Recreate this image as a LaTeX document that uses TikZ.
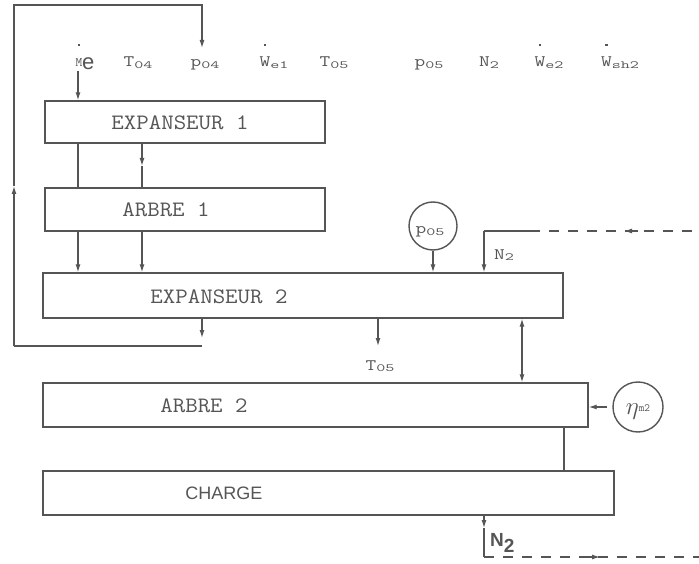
\documentclass[tikz,border=0pt]{standalone}
\usepackage{graphicx}
\usepackage{fontspec}
\setsansfont{Liberation Sans}
\usetikzlibrary{arrows.meta}
\definecolor{ink}{HTML}{555555}
\newcommand\bigsz{\fontsize{16}{16}\selectfont}
\newcommand\smsz{\fontsize{11}{11}\selectfont}
\newcommand\lsym[2]{{\ttfamily\scalebox{1.3}[1]{\bigsz #1}\raisebox{-1.5pt}{\scalebox{1.6}[1]{\smsz #2}}}}
\newcommand\dotted[1]{\leavevmode\hbox{\ooalign{#1\cr\hidewidth\raisebox{21pt}{\rule{2.2pt}{2.2pt}}\hidewidth\cr}}}
\newcommand\boxlab[1]{\scalebox{1.1}[1]{#1}}
\begin{document}
\begin{tikzpicture}[x=1pt,y=-1pt,
  blk/.style={draw=ink, line width=1.3pt, rectangle, inner sep=0pt},
  boxtxt/.style={text=ink, font=\ttfamily\fontsize{22}{22}\selectfont},
  lab/.style={text=ink, inner sep=0pt, anchor=base},
  ln/.style={draw=ink, line width=1.2pt},
  tip/.style={-{Latex[length=8pt,width=5pt]}},
  arr/.style={ln, tip},
  dsh/.style={ln, dash pattern=on 10pt off 9pt},
  ring/.style={draw=ink, line width=1.4pt, circle, inner sep=0pt}]
\useasboundingbox (0,0) rectangle (699,564);

% boxes
\node[blk, minimum width=280pt, minimum height=42pt] (e1) at (185,122) {};
\node[blk, minimum width=280pt, minimum height=43pt] (a1) at (185,209.5) {};
\node[blk, minimum width=520pt, minimum height=45pt] (e2) at (303,295.5) {};
\node[blk, minimum width=545pt, minimum height=44pt] (a2) at (315.5,405) {};
\node[blk, minimum width=571pt, minimum height=44pt] (ch) at (328.5,493) {};

\node[boxtxt] (te1) at (180,123) {\boxlab{EXPANSEUR 1}};
\node[boxtxt] (ta1) at (166,210) {\boxlab{ARBRE 1}};
\node[boxtxt] (te2) at (219,297) {\boxlab{EXPANSEUR 2}};
\node[boxtxt] (ta2) at (204,406) {\boxlab{ARBRE 2}};
\node[text=ink, font=\sffamily\fontsize{18}{18}\selectfont] (tch) at (224,493) {CHARGE};

% top labels
\node[lab] (lm) at (85,67) {\dotted{\ttfamily\fontsize{13}{13}\selectfont M}\raisebox{-3pt}{\sffamily\fontsize{22}{22}\selectfont e}};
\node[lab] (lt4) at (138,67) {\lsym{T}{04}};
\node[lab] (lp4) at (205,67) {\lsym{p}{04}};
\node[lab] (lw1) at (274,67) {\dotted{\lsym{W}{}}\lsym{}{e1}};
\node[lab] (lt5) at (334,67) {\lsym{T}{05}};
\node[lab] (lp5) at (429,67) {\lsym{p}{05}};
\node[lab] (ln2) at (489,67) {\lsym{N}{2}};
\node[lab] (lw2) at (549,67) {\dotted{\lsym{W}{}}\lsym{}{e2}};
\node[lab] (lw3) at (620,67) {\dotted{\lsym{W}{}}\lsym{}{sh2}};

% feedback loop
\coordinate (L1) at (14,346);
\coordinate (L2) at (14,5);
\coordinate (L3) at (202,5);
\coordinate (L4) at (202,48);
\coordinate (Lm) at (14,186);
\coordinate (Lb) at (202,346);
\draw[arr] (L1) -- (Lm);
\draw[arr] (Lm) -- (L2) -- (L3) -- (L4);
\draw[ln] (L1) -- (Lb);
\coordinate (o1) at (202,338);
\draw[arr] (e2.south -| o1) -- (o1);

% M dot input
\coordinate (m0) at (78,71);
\draw[arr] (m0) -- (e1.north -| m0);

% between EXP1 and ARBRE1
\coordinate (c78) at (78,0);
\coordinate (c142) at (142,166);
\draw[ln] (e1.south -| c78) -- (a1.north -| c78);
\draw[arr] (e1.south -| c142) -- (c142);
\draw[ln] (c142) -- (a1.north -| c142);

% between ARBRE1 and EXP2
\draw[arr] (a1.south -| c78) -- (e2.north -| c78);
\draw[arr] (a1.south -| c142) -- (e2.north -| c142);

% p05 ring
\node[ring, minimum size=48pt] (pr) at (433,226) {};
\node[lab] (prt) at (430,234) {\lsym{p}{05}};
\draw[arr] (pr.south) -- (e2.north -| pr.south);

% N2 input dashed
\coordinate (n2a) at (484,231);
\coordinate (n2b) at (530,231);
\coordinate (n2c) at (699,231);
\coordinate (n2h) at (638,231);
\coordinate (n2t) at (624,231);
\draw[arr] (n2a) -- (e2.north -| n2a);
\draw[ln] (n2a) -- (n2b);
\draw[dsh] (n2b) -- (n2c);
\draw[arr] (n2h) -- (n2t);
\node[lab] (n2l) at (504,259) {\lsym{N}{2}};

% T05 output
\coordinate (t5) at (378,346);
\draw[arr] (e2.south -| t5) -- (t5);
\node[lab] (t5l) at (380,370) {\lsym{T}{05}};

% double arrow EXP2 - ARBRE2
\coordinate (dd) at (522,0);
\draw[ln, {Latex[length=8pt,width=5pt]}-{Latex[length=8pt,width=5pt]}] (e2.south -| dd) -- (a2.north -| dd);

% eta ring
\node[ring, minimum size=50pt] (er) at (638,407) {};
\node[lab] (erl) at (638,414) {{\fontsize{26}{26}\selectfont$\eta$}\raisebox{3pt}{\ttfamily\fontsize{11}{11}\selectfont m2}};
\draw[arr, shorten <=5pt] (er.west) -- (a2.east |- er.west);

% ARBRE2 - CHARGE shaft
\coordinate (sh) at (564,0);
\draw[ln] (a2.south -| sh) -- (ch.north -| sh);

% N2 output
\coordinate (b1) at (484,528);
\coordinate (b2) at (484,557);
\coordinate (b3) at (699,557);
\coordinate (bh) at (584,557);
\coordinate (bt) at (600,557);
\draw[arr] (ch.south -| b1) -- (b1);
\draw[ln] (b1) -- (b2);
\draw[dsh] (b2) -- (b3);
\draw[arr] (bh) -- (bt);
\node[lab, anchor=base west] (bl) at (490,546) {\sffamily\bfseries\fontsize{19}{19}\selectfont N\raisebox{-6pt}{2}};
\end{tikzpicture}
\end{document}
